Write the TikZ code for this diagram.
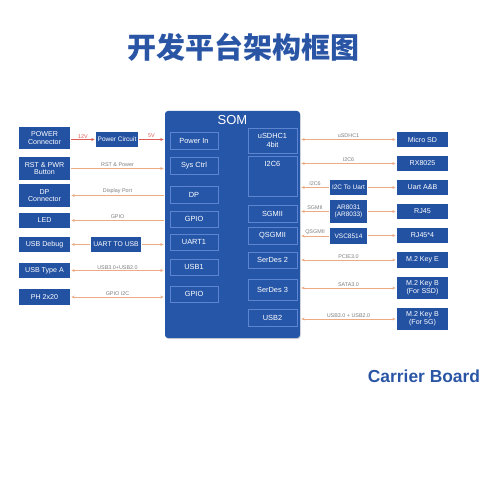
\documentclass[tikz,border=0pt]{standalone}
\usepackage{fontspec}
\setmainfont{Liberation Sans}
\newfontfamily\cjk{Noto Sans CJK SC}
\usetikzlibrary{arrows.meta,positioning,shadows}

\definecolor{boxblue}{RGB}{36,82,163}
\definecolor{somblue}{RGB}{38,86,168}
\definecolor{edgeblue}{RGB}{92,132,208}
\definecolor{wirec}{RGB}{238,170,130}
\definecolor{pwirec}{RGB}{222,92,84}
\definecolor{lblgray}{RGB}{125,125,125}
\definecolor{titleblue}{RGB}{42,85,165}

\tikzset{
	blk/.style={fill=boxblue, text=white, align=center, inner sep=0pt,
		font=\fontsize{7.1}{7.6}\selectfont},
	port/.style={draw=edgeblue, line width=0.5pt, fill=somblue, text=white,
		align=center, inner sep=0pt, font=\fontsize{7.4}{8.4}\selectfont},
	wire/.style={draw=wirec, line width=0.5pt, shorten <=1.2pt, shorten >=1.2pt},
	pwire/.style={wire, draw=pwirec},
	fwd/.style={-{Stealth[length=3.2pt,width=2.8pt]}},
	bwd/.style={{Stealth[length=3.2pt,width=2.8pt]}-},
	both/.style={{Stealth[length=3.2pt,width=2.8pt]}-{Stealth[length=3.2pt,width=2.8pt]}},
	lbl/.style={text=lblgray, inner sep=1.2pt, font=\fontsize{5.4}{6}\selectfont},
	plbl/.style={lbl, text=pwirec}
}

\begin{document}
\begin{tikzpicture}[x=1pt, y=-1pt]
	\useasboundingbox (0,0) rectangle (500,500);

	\node [text=titleblue, font=\cjk\bfseries\fontsize{29}{30}\selectfont]	(Title)	at (243.5,47)	{开发平台架构框图};

	\node [fill=somblue, rounded corners=3pt, minimum width=135pt, minimum height=227pt,
		drop shadow={opacity=0.3, shadow xshift=0.6pt, shadow yshift=-1.2pt},
		label={[text=white, anchor=north, inner sep=4.5pt, font=\fontsize{13}{13}\selectfont]north:SOM}]	(SOM)	at (232.5,224.5)	{};

	% carrier board, left side
	\node [blk, minimum width=51pt, minimum height=22pt]	(Power)		at (44.5,138)		{POWER\\Connector};
	\node [blk, minimum width=51pt, minimum height=23pt]	(Rst)		at (44.5,168.5)		{RST \& PWR\\Button};
	\node [blk, minimum width=51pt, minimum height=23pt]	(DpConn)	at (44.5,195.5)		{DP\\Connector};
	\node [blk, minimum width=51pt, minimum height=15pt]	(Led)		at (44.5,220.5)		{LED};
	\node [blk, minimum width=51pt, minimum height=15pt]	(UsbDbg)	at (44.5,244.5)		{USB Debug};
	\node [blk, minimum width=51pt, minimum height=15pt]	(UsbA)		at (44.5,270.5)		{USB Type A};
	\node [blk, minimum width=51pt, minimum height=16pt]	(Ph)		at (44.5,297)		{PH 2x20};
	\node [blk, minimum width=42pt, minimum height=15pt, font=\fontsize{6.5}{7}\selectfont]	(PwrCirc)	at (117,139.5)	{Power Circuit};
	\node [blk, minimum width=50pt, minimum height=15pt, font=\fontsize{6.8}{7}\selectfont]	(UartUsb)	at (116,244.5)	{UART TO USB};

	% SOM interfaces
	\node [port, minimum width=48pt, minimum height=17pt]	(PowerIn)	at (194,140.5)		{Power In};
	\node [port, minimum width=48pt, minimum height=17pt]	(SysCtrl)	at (194,165.5)		{Sys Ctrl};
	\node [port, minimum width=48pt, minimum height=17pt]	(Dp)		at (194,194.5)		{DP};
	\node [port, minimum width=48pt, minimum height=16pt]	(GpioA)		at (194,219)		{GPIO};
	\node [port, minimum width=48pt, minimum height=16pt]	(Uart1)		at (194,242)		{UART1};
	\node [port, minimum width=48pt, minimum height=16pt]	(Usb1)		at (194,267)		{USB1};
	\node [port, minimum width=48pt, minimum height=16pt]	(GpioB)		at (194,294)		{GPIO};
	\node [port, minimum width=49pt, minimum height=25pt]	(Sdhc)		at (272.5,140.5)	{uSDHC1\\4bit};
	\node [port, minimum width=49pt, minimum height=40pt,
		label={[text=white, anchor=north, inner sep=5pt, font=\fontsize{7.4}{8}\selectfont]north:I2C6}]	(I2c)	at (272.5,176)	{};
	\node [port, minimum width=49pt, minimum height=17pt]	(Sgmii)		at (272.5,213.5)	{SGMII};
	\node [port, minimum width=49pt, minimum height=17pt]	(Qsgmii)	at (272.5,235.5)	{QSGMII};
	\node [port, minimum width=49pt, minimum height=16pt]	(Serdes2)	at (272.5,260)		{SerDes 2};
	\node [port, minimum width=49pt, minimum height=21pt]	(Serdes3)	at (272.5,289.5)	{SerDes 3};
	\node [port, minimum width=49pt, minimum height=17pt]	(Usb2)		at (272.5,317.5)	{USB2};

	% carrier board, right side
	\node [blk, minimum width=37pt, minimum height=15pt, font=\fontsize{6.5}{7}\selectfont]	(I2cUart)	at (348.5,187.5)	{I2C To Uart};
	\node [blk, minimum width=37pt, minimum height=23pt, font=\fontsize{6.5}{7.6}\selectfont]	(Phy)		at (348.5,211.5)	{AR8031\\(AR8033)};
	\node [blk, minimum width=37pt, minimum height=16pt, font=\fontsize{6.5}{7}\selectfont]	(Vsc)		at (348.5,236)		{VSC8514};
	\node [blk, minimum width=51pt, minimum height=15pt]	(MicroSd)	at (422.5,139.5)	{Micro SD};
	\node [blk, minimum width=51pt, minimum height=15pt]	(Rtc)		at (422.5,163.5)	{RX8025};
	\node [blk, minimum width=51pt, minimum height=15pt]	(UartAB)	at (422.5,187.5)	{Uart A\&B};
	\node [blk, minimum width=51pt, minimum height=15pt]	(Rj45)		at (422.5,211.5)	{RJ45};
	\node [blk, minimum width=51pt, minimum height=15pt]	(Rj45x4)	at (422.5,235.5)	{RJ45*4};
	\node [blk, minimum width=51pt, minimum height=16pt]	(KeyE)		at (422.5,260)		{M.2 Key E};
	\node [blk, minimum width=51pt, minimum height=22pt]	(KeySsd)	at (422.5,288)		{M.2 Key B\\(For SSD)};
	\node [blk, minimum width=51pt, minimum height=22pt]	(Key5g)		at (422.5,319)		{M.2 Key B\\(For 5G)};

	\node [text=titleblue, font=\bfseries\fontsize{17.4}{18}\selectfont]	(Carrier)	at (424,376)	{Carrier Board};

	% left connectors
	\draw [pwire, fwd] (Power.east |- PwrCirc.west) -- (PwrCirc.west) node [midway, above, plbl] {12V};
	\draw [pwire, fwd] (PwrCirc.east) -- (PwrCirc.east -| SOM.west) node [midway, above, plbl] {5V};
	\draw [wire, fwd] (Rst.east) -- (Rst.east -| SOM.west) node [midway, above, lbl] {RST \& Power};
	\draw [wire, fwd] (DpConn.east -| SOM.west) -- (DpConn.east) node [midway, above, lbl] {Display Port};
	\draw [wire, fwd] (Led.east -| SOM.west) -- (Led.east) node [midway, above, lbl] {GPIO};
	\draw [wire, fwd] (UartUsb.west) -- (UsbDbg.east);
	\draw [wire, fwd] (UartUsb.east) -- (UartUsb.east -| SOM.west);
	\draw [wire, both] (UsbA.east) -- (UsbA.east -| SOM.west) node [midway, above, lbl] {USB3.0+USB2.0};
	\draw [wire, both] (Ph.east) -- (Ph.east -| SOM.west) node [midway, above, lbl] {GPIO I2C};

	% right connectors
	\draw [wire, both] (SOM.east |- MicroSd.west) -- (MicroSd.west) node [midway, above, lbl] {uSDHC1};
	\draw [wire, both] (SOM.east |- Rtc.west) -- (Rtc.west) node [midway, above, lbl] {I2C6};
	\draw [wire, bwd] (SOM.east |- I2cUart.west) -- (I2cUart.west) node [midway, above, lbl] {I2C6};
	\draw [wire, fwd] (I2cUart.east) -- (UartAB.west);
	\draw [wire, bwd] (SOM.east |- Phy.west) -- (Phy.west) node [midway, above, lbl] {SGMII};
	\draw [wire, fwd] (Phy.east) -- (Rj45.west);
	\draw [wire, bwd] (SOM.east |- Vsc.west) -- (Vsc.west) node [midway, above, lbl] {QSGMII};
	\draw [wire, fwd] (Vsc.east |- Rj45x4.west) -- (Rj45x4.west);
	\draw [wire, both] (SOM.east |- KeyE.west) -- (KeyE.west) node [midway, above, lbl] {PCIE3.0};
	\draw [wire, both] (SOM.east |- KeySsd.west) -- (KeySsd.west) node [midway, above, lbl] {SATA3.0};
	\draw [wire, both] (SOM.east |- Key5g.west) -- (Key5g.west) node [midway, above, lbl] {USB3.0 + USB2.0};
\end{tikzpicture}
\end{document}
